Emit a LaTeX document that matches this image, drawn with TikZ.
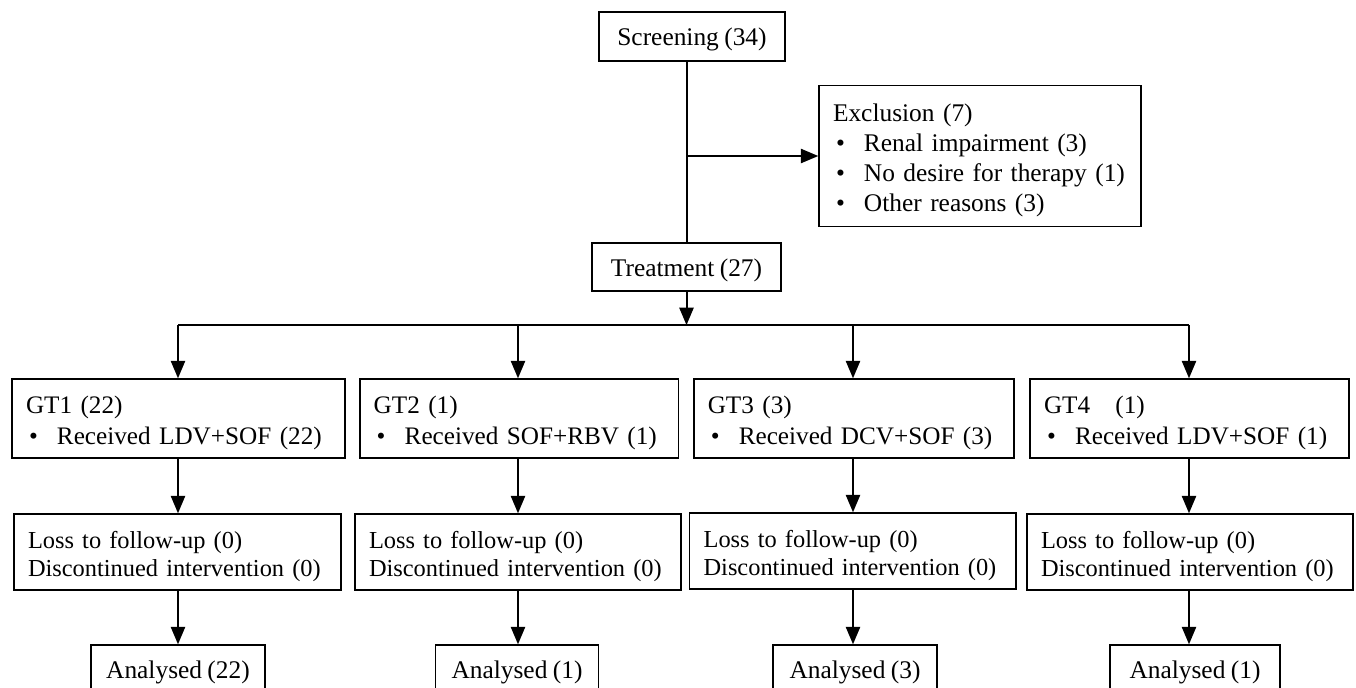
\documentclass[tikz,border=0pt]{standalone}
\usepackage{fontspec}
\setmainfont{Liberation Serif}[WordSpace=0.85]
\usetikzlibrary{positioning,arrows}

\tikzset{
  box/.style={draw, line width=0.8pt, inner xsep=7pt, inner ysep=0pt, align=left,
    execute at end node={\par\vspace*{-4.5pt}}},
  cbox/.style={draw, line width=0.8pt, inner xsep=7pt, inner ysep=0pt, minimum height=24pt,
    text height=11pt, text depth=2pt},
  gtbox/.style={box, minimum height=39.5pt, font=\fontsize{12.6}{15.5}\selectfont},
  fubox/.style={box, minimum height=38pt, font=\fontsize{12.2}{14.2}\selectfont},
  flow/.style={line width=1pt},
}
\newcommand{\bul}{\makebox[15.5pt][l]{\hspace{1.5pt}\textbullet}}

\begin{document}
\begin{tikzpicture}[x=0.5pt,y=-0.5pt,>=triangle 45,font=\fontsize{12.7}{15}\selectfont]
   \useasboundingbox (0,0) rectangle (1356,687);

   % top part
   \node[cbox, minimum width=93pt, minimum height=24.5pt] (scr) at (692,36.5) {Screening (34)};
   \node[box, text width=147pt, minimum height=70.5pt] (exc) at (980,156)
     {Exclusion (7)\\\bul Renal impairment (3)\\\bul No desire for therapy (1)\\\bul Other reasons (3)};
   \node[cbox, minimum width=94.5pt] (trt) at (686.5,267) {Treatment (27)};
   \coordinate (split) at (686.5,325);

   % genotype groups
   \node[gtbox, text width=152.5pt] (gt1) at (178.5,418.5) {GT1 (22)\\\bul Received LDV+SOF (22)};
   \node[gtbox, text width=145.3pt] (gt2) at (519,418.5) {GT2 (1)\\\bul Received SOF+RBV (1)};
   \node[gtbox, text width=146.2pt] (gt3) at (854,418.5) {GT3 (3)\\\bul Received DCV+SOF (3)};
   \node[gtbox, text width=145.5pt] (gt4) at (1189.5,418.5) {GT4~~~(1)\\\bul Received LDV+SOF (1)};

   % follow-up
   \node[fubox, text width=149.5pt] (fu1) at (177.5,552) {Loss to follow-up (0)\\Discontinued intervention (0)};
   \node[fubox, text width=149pt] (fu2) at (518,552) {Loss to follow-up (0)\\Discontinued intervention (0)};
   \node[fubox, text width=149.2pt] (fu3) at (852.8,551) {Loss to follow-up (0)\\Discontinued intervention (0)};
   \node[fubox, text width=149pt] (fu4) at (1190,552) {Loss to follow-up (0)\\Discontinued intervention (0)};

   % analysed
   \node[cbox, minimum width=87pt] (an1) at (178,669) {Analysed (22)};
   \node[cbox, minimum width=81.5pt] (an2) at (517,669) {Analysed (1)};
   \node[cbox, minimum width=82pt] (an3) at (855,669) {Analysed (3)};
   \node[cbox, minimum width=85pt] (an4) at (1195,669) {Analysed (1)};

   \draw[flow] (trt.north |- scr.south) -- (trt.north);
   \draw[flow,->] (trt.north |- exc.west) -- (exc.west);
   \draw[flow,->] (trt.south) -- (split);
   \draw[flow] (178,325) -- (1189,325);
   \foreach \i/\x in {1/178,2/518,3/853,4/1189} {
     \draw[flow,->] (\x,325) -- (\x,0 |- gt\i.north);
     \draw[flow,->] (\x,0 |- gt\i.south) -- (\x,0 |- fu\i.north);
     \draw[flow,->] (\x,0 |- fu\i.south) -- (\x,0 |- an\i.north);
   }
\end{tikzpicture}
\end{document}
